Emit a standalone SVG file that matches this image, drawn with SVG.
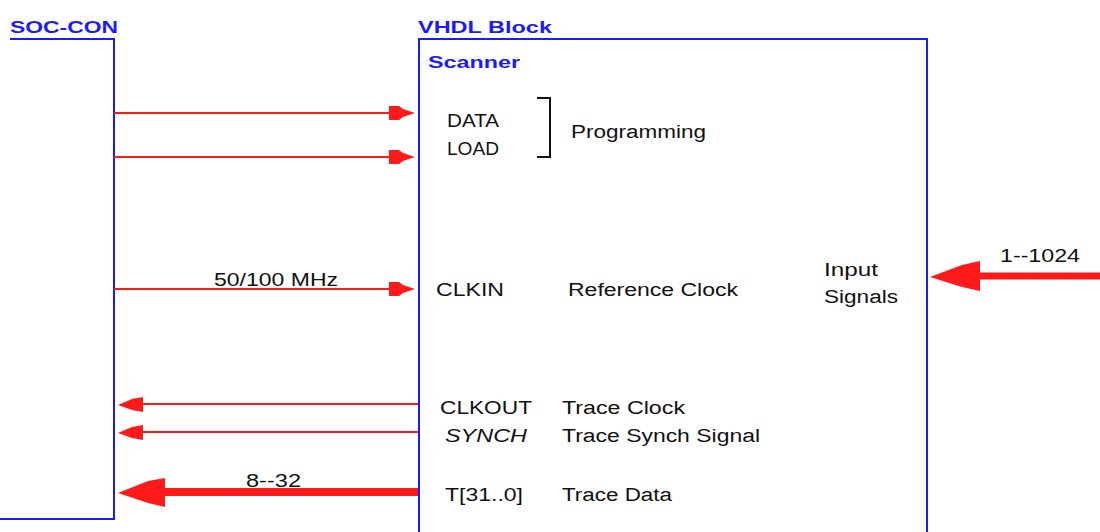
<svg xmlns="http://www.w3.org/2000/svg" width="1100" height="532" viewBox="0 0 1100 532">
<style>
.hd{font-family:"Liberation Sans",Arial,sans-serif;font-weight:bold;fill:#1a1aff;font-size:17px}
.t{font-family:"Liberation Sans",Arial,sans-serif;fill:#111;font-size:18px}
.blue{stroke:#1a1aff;stroke-width:2;fill:none}
.w{stroke:#ff1a1a;stroke-width:2;fill:none}
.wt{stroke:#ff1a1a;fill:none}
.ah{fill:#ff1a1a}
</style>
<rect width="1100" height="532" fill="#fff"/>
<g id="soc-con">
<text class="hd" x="10" y="33" textLength="108" lengthAdjust="spacingAndGlyphs">SOC-CON</text>
<polyline class="blue" points="10,39 114,39 114,519 0,519"/>
</g>
<g id="vhdl-block">
<text class="hd" x="418" y="33" textLength="134" lengthAdjust="spacingAndGlyphs">VHDL  Block</text>
<polyline class="blue" points="419,532 419,39 927,39 927,532"/>
<text class="hd" x="428" y="68" textLength="92" lengthAdjust="spacingAndGlyphs">Scanner</text>
<text class="t" x="447" y="127" textLength="52" lengthAdjust="spacingAndGlyphs">DATA</text>
<text class="t" x="447" y="155" textLength="52" lengthAdjust="spacingAndGlyphs">LOAD</text>
<polyline points="537,98 550,98 550,157 537,157" fill="none" stroke="#111" stroke-width="2"/>
<text class="t" x="571" y="138" textLength="135" lengthAdjust="spacingAndGlyphs">Programming</text>
<text class="t" x="436" y="296" textLength="68" lengthAdjust="spacingAndGlyphs">CLKIN</text>
<text class="t" x="568" y="296" textLength="170" lengthAdjust="spacingAndGlyphs">Reference Clock</text>
<text class="t" x="824" y="276" textLength="54" lengthAdjust="spacingAndGlyphs">Input</text>
<text class="t" x="824" y="303" textLength="74" lengthAdjust="spacingAndGlyphs">Signals</text>
<text class="t" x="440" y="414" textLength="92" lengthAdjust="spacingAndGlyphs">CLKOUT</text>
<text class="t" x="562" y="414" textLength="123" lengthAdjust="spacingAndGlyphs">Trace Clock</text>
<text class="t" x="445" y="442" textLength="82" lengthAdjust="spacingAndGlyphs" font-style="italic">SYNCH</text>
<text class="t" x="562" y="442" textLength="198" lengthAdjust="spacingAndGlyphs">Trace Synch Signal</text>
<text class="t" x="445" y="501" textLength="78" lengthAdjust="spacingAndGlyphs">T[31..0]</text>
<text class="t" x="562" y="501" textLength="110" lengthAdjust="spacingAndGlyphs">Trace Data</text>
</g>
<g id="connectors">
<line class="w" x1="114" y1="113" x2="392" y2="113"/>
<polygon class="ah" points="389,106 399,106 403,109 415,113 403,117 399,120 389,120"/>
<line class="w" x1="114" y1="157" x2="392" y2="157"/>
<polygon class="ah" points="389,150 399,150 403,153 415,157 403,161 399,164 389,164"/>
<line class="w" x1="114" y1="289" x2="392" y2="289"/>
<polygon class="ah" points="389,282 399,282 403,285 415,289 403,293 399,296 389,296"/>
<text class="t" x="214" y="286" textLength="124" lengthAdjust="spacingAndGlyphs">50/100  MHz</text>
<line class="wt" x1="1100" y1="276" x2="975" y2="276" stroke-width="7"/>
<polygon class="ah" points="980,261 980,291 962,287 930,277 962,265"/>
<text class="t" x="1000" y="262" textLength="80" lengthAdjust="spacingAndGlyphs">1--1024</text>
<line class="w" x1="418" y1="404" x2="140" y2="404"/>
<polygon class="ah" points="143,397 143,412 132,410 118,405 132,399"/>
<line class="w" x1="418" y1="432" x2="140" y2="432"/>
<polygon class="ah" points="143,425 143,440 132,438 118,433 132,427"/>
<line class="wt" x1="418" y1="492" x2="160" y2="492" stroke-width="8"/>
<polygon class="ah" points="165,478 165,507 148,503 118,493 148,481"/>
<text class="t" x="246" y="487" textLength="55" lengthAdjust="spacingAndGlyphs">8--32</text>
</g>
</svg>
